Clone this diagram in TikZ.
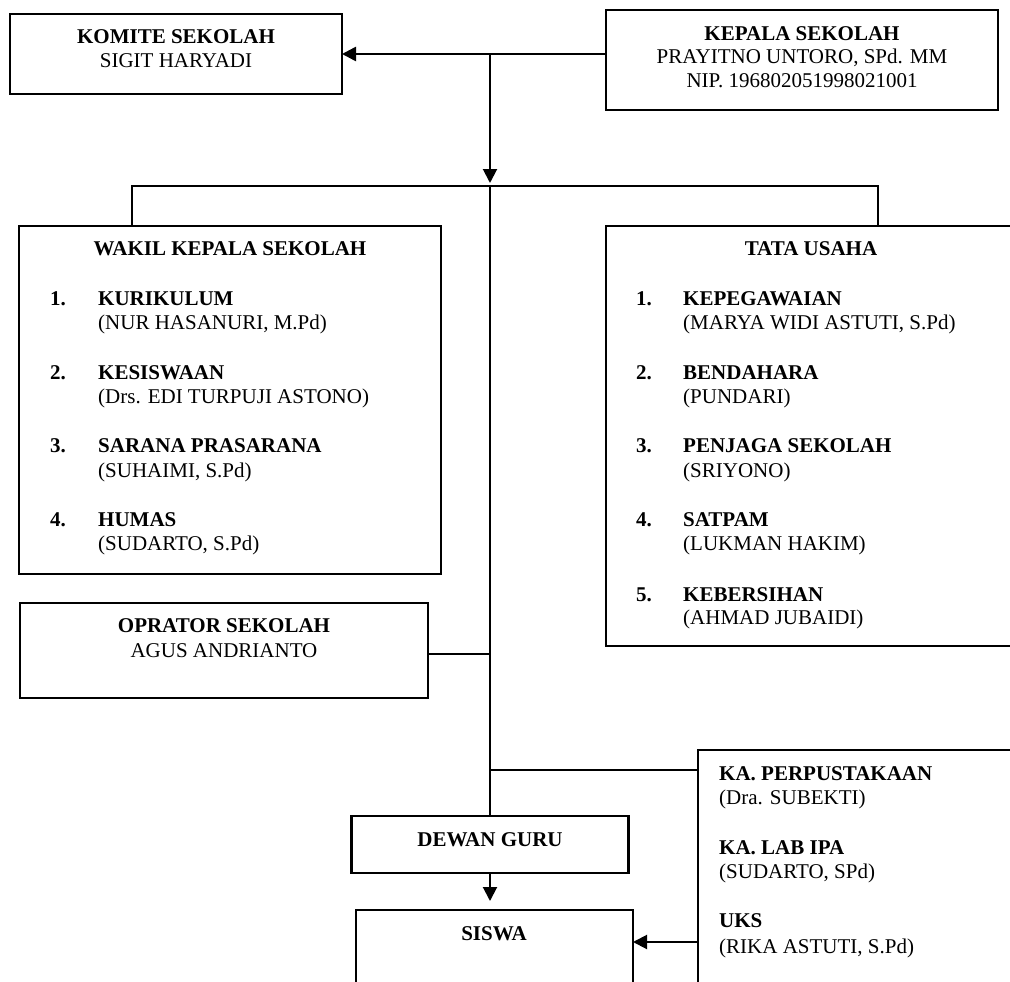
\documentclass[tikz,border=0pt]{standalone}
\usepackage{fontspec}
\setmainfont{Liberation Serif}
\usetikzlibrary{arrows.meta}
\begin{document}
\begin{tikzpicture}[x=1pt,y=-1pt,
  box/.style={draw,line width=2.2pt,anchor=north west,inner sep=0pt,outer sep=0pt},
  conn/.style={line width=2pt},
  arr/.style={conn,-{Triangle[length=14pt,width=14pt]}},
  lbl/.style={anchor=base,inner sep=0pt,font=\fontsize{21}{25}\selectfont},
  lbll/.style={anchor=base west,inner sep=0pt,font=\fontsize{21}{25}\selectfont},
  lblb/.style={lbl,font=\fontsize{21}{25}\selectfont\bfseries},
  lbllb/.style={lbll,font=\fontsize{21}{25}\selectfont\bfseries}]
\useasboundingbox (0,0) rectangle (1010,982);
\clip (0,0) rectangle (1010,982);

% boxes
\node[box,minimum width=332pt,minimum height=80pt] (komite) at (10,14) {};
\node[box,minimum width=392pt,minimum height=100pt] (kepala) at (606,10) {};
\node[box,minimum width=422pt,minimum height=348pt] (wakil) at (19,226) {};
\node[box,minimum width=420pt,minimum height=420pt] (tata) at (606,226) {};
\node[box,minimum width=408pt,minimum height=95pt] (oprator) at (20,603) {};
\node[box,minimum width=277pt,minimum height=57pt] (dewan) at (351.5,816) {};
\node[box,minimum width=277pt,minimum height=130pt] (siswa) at (356,910) {};
\node[box,minimum width=340pt,minimum height=300pt] (ka) at (698,750) {};

% junction coordinates
\coordinate (j1) at (490,54);
\coordinate (bar) at (490,186);
\coordinate (barL) at (132,186);
\coordinate (barR) at (878,186);
\coordinate (kaj) at (490,770);
\coordinate (opj) at (490,654);
\coordinate (uks) at (698,942);

% connectors
\draw[arr,line width=2.6pt] (kepala.west |- j1) -- (komite.east |- j1);
\draw[arr,shorten >=3pt] (j1) -- (bar);
\draw[conn] (barL |- wakil.north) -- (barL) -- (barR) -- (barR |- tata.north);
\draw[conn] (bar) -- (dewan.north);
\draw[conn] (oprator.east |- opj) -- (opj);
\draw[conn] (kaj) -- (kaj -| ka.west);
\draw[arr,shorten >=9pt] (dewan.south) -- (dewan.south |- siswa.north);
\draw[arr] (uks) -- (uks -| siswa.east);

% texts
\node[lblb] (t1) at (176,44) {KOMITE SEKOLAH};
\node[lbl] (t2) at (176,68) {SIGIT HARYADI};
\node[lblb] (t3) at (802,41) {KEPALA SEKOLAH};
\node[lbl] (t4) at (802,64) {PRAYITNO UNTORO, SPd. MM};
\node[lbl] (t5) at (802,88) {NIP. 196802051998021001};

\node[lblb] (w0) at (230,255) {WAKIL KEPALA SEKOLAH};
\node[lbllb] (wn1) at (50,305) {1.};
\node[lbllb] (wa1) at (98,305) {KURIKULUM};
\node[lbll] (wb1) at (98,329) {(NUR HASANURI, M.Pd)};
\node[lbllb] (wn2) at (50,379) {2.};
\node[lbllb] (wa2) at (98,379) {KESISWAAN};
\node[lbll] (wb2) at (98,403) {(Drs. EDI TURPUJI ASTONO)};
\node[lbllb] (wn3) at (50,452) {3.};
\node[lbllb] (wa3) at (98,452) {SARANA PRASARANA};
\node[lbll] (wb3) at (98,477) {(SUHAIMI, S.Pd)};
\node[lbllb] (wn4) at (50,526) {4.};
\node[lbllb] (wa4) at (98,526) {HUMAS};
\node[lbll] (wb4) at (98,550) {(SUDARTO, S.Pd)};

\node[lblb] (u0) at (811,255) {TATA USAHA};
\node[lbllb] (un1) at (636,305) {1.};
\node[lbllb] (ua1) at (683,305) {KEPEGAWAIAN};
\node[lbll] (ub1) at (683,329) {(MARYA WIDI ASTUTI, S.Pd)};
\node[lbllb] (un2) at (636,379) {2.};
\node[lbllb] (ua2) at (683,379) {BENDAHARA};
\node[lbll] (ub2) at (683,403) {(PUNDARI)};
\node[lbllb] (un3) at (636,452) {3.};
\node[lbllb] (ua3) at (683,452) {PENJAGA SEKOLAH};
\node[lbll] (ub3) at (683,477) {(SRIYONO)};
\node[lbllb] (un4) at (636,526) {4.};
\node[lbllb] (ua4) at (683,526) {SATPAM};
\node[lbll] (ub4) at (683,550) {(LUKMAN HAKIM)};
\node[lbllb] (un5) at (636,601) {5.};
\node[lbllb] (ua5) at (683,601) {KEBERSIHAN};
\node[lbll] (ub5) at (683,624) {(AHMAD JUBAIDI)};

\node[lblb] (o1) at (224,632) {OPRATOR SEKOLAH};
\node[lbl] (o2) at (224,657) {AGUS ANDRIANTO};

\node[lblb] (d1) at (490,846) {DEWAN GURU};
\node[lblb] (s1) at (494,940) {SISWA};

\node[lbllb] (k1) at (719,780) {KA. PERPUSTAKAAN};
\node[lbll] (k2) at (719,804) {(Dra. SUBEKTI)};
\node[lbllb] (k3) at (719,854) {KA. LAB IPA};
\node[lbll] (k4) at (719,878) {(SUDARTO, SPd)};
\node[lbllb] (k5) at (719,927) {UKS};
\node[lbll] (k6) at (719,953) {(RIKA ASTUTI, S.Pd)};
\end{tikzpicture}
\end{document}
